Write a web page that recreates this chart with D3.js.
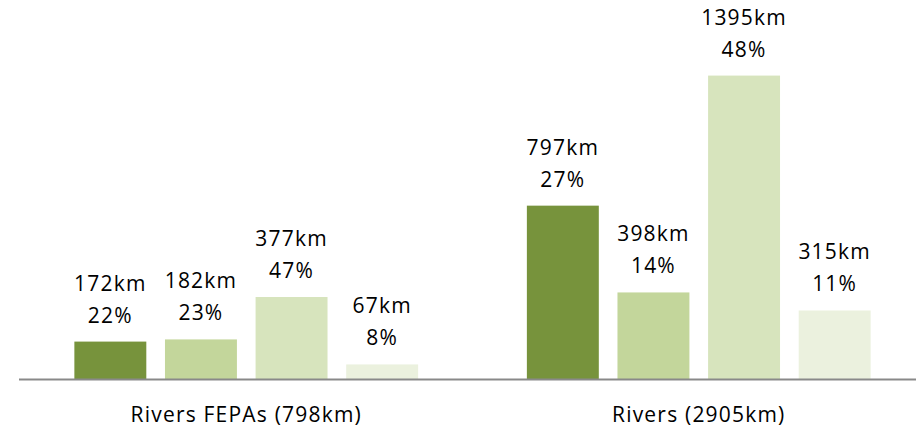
<!DOCTYPE html>
<html>
<head>
<meta charset="utf-8">
<script src="https://cdn.jsdelivr.net/npm/d3@7"></script>
<style>
  html, body { margin: 0; padding: 0; background: #fff; }
  svg { display: block; }
  text { font-family: "Open Sans", sans-serif; fill: #000; }
</style>
</head>
<body>
<svg id="chart" width="916" height="431"></svg>
<script>
const groups = ["Rivers FEPAs (798km)", "Rivers (2905km)"];
const subKeys = ["a", "b", "c", "d"];
const kmValues = [
  [172, 182, 377, 67],
  [797, 398, 1395, 315]
];
const pctValues = [
  [22, 23, 47, 8],
  [27, 14, 48, 11]
];
const colors = ["#77933c", "#c3d69b", "#d7e4bd", "#ebf1de"];

const svg = d3.select("#chart");
const baseY = 379;

const x0 = d3.scaleBand().domain(groups).range([20, 925]).paddingInner(0).paddingOuter(0);
const x1 = d3.scaleBand().domain(subKeys).range([0, x0.bandwidth()]).paddingInner(0.206).paddingOuter(0.6);
const y = d3.scaleLinear().domain([0, 1400]).range([baseY, baseY - 1400 * 0.2175]);

const color = d3.scaleOrdinal().domain(subKeys).range(colors);

const g = svg.append("g");

groups.forEach((grp, gi) => {
  const gg = g.append("g").attr("transform", `translate(${x0(grp)},0)`);
  const data = subKeys.map((k, i) => ({ k, km: kmValues[gi][i], pct: pctValues[gi][i] }));
  gg.selectAll("rect").data(data).join("rect")
    .attr("x", d => x1(d.k))
    .attr("width", x1.bandwidth())
    .attr("y", d => y(d.km))
    .attr("height", d => baseY - y(d.km))
    .attr("fill", d => color(d.k));
  const lab = gg.selectAll("g.lab").data(data).join("g").attr("class", "lab");
  lab.append("text")
    .attr("x", d => x1(d.k) + x1.bandwidth() / 2)
    .attr("y", d => y(d.km) - 51)
    .attr("text-anchor", "middle")
    .style("font-size", "21px")
    .style("letter-spacing", "1.2px")
    .text(d => d.km + "km");
  lab.append("text")
    .attr("x", d => x1(d.k) + x1.bandwidth() / 2)
    .attr("y", d => y(d.km) - 19)
    .attr("text-anchor", "middle")
    .style("font-size", "21px")
    .style("letter-spacing", "1.2px")
    .text(d => d.pct + "%");
});

// axis line
svg.append("line")
  .attr("x1", 19).attr("x2", 916)
  .attr("y1", baseY + 0.5).attr("y2", baseY + 0.5)
  .attr("stroke", "#898989").attr("stroke-width", 2);

// category labels
svg.selectAll("text.cat").data(groups).join("text")
  .attr("class", "cat")
  .attr("x", d => x0(d) + x0.bandwidth() / 2)
  .attr("y", 422)
  .attr("text-anchor", "middle")
  .style("font-size", "21px")
  .style("letter-spacing", "1.2px")
  .text(d => d);
</script>
</body>
</html>
